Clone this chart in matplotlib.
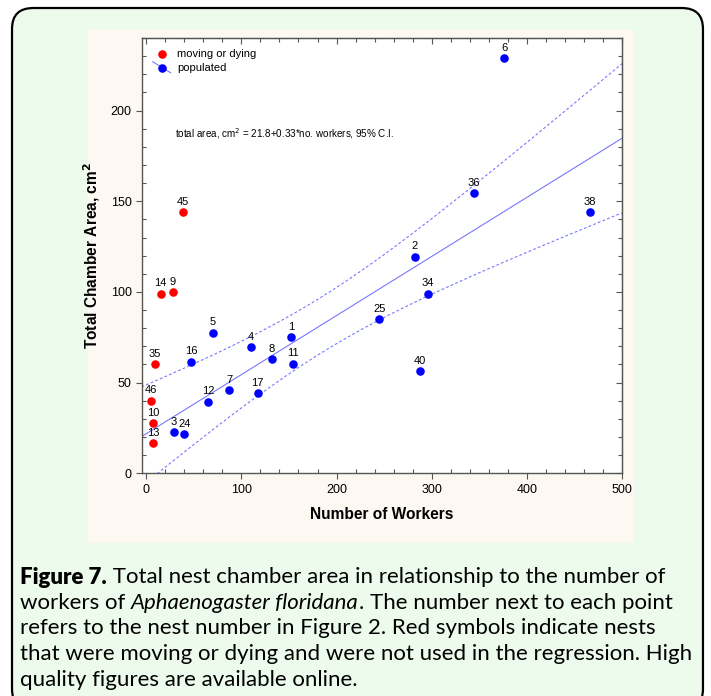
import numpy as np
import matplotlib
matplotlib.use("Agg")
import matplotlib.pyplot as plt
from matplotlib.patches import FancyBboxPatch, Rectangle
from matplotlib.ticker import MultipleLocator

# nests that were moving or dying (not in regression)
red_nest = ["45", "14", "9", "35", "46", "10", "13"]
red_workers = [39, 15, 28, 9, 5, 7, 7]
red_area = [144, 99, 100, 60, 40, 27.5, 16.5]

# populated nests
blue_nest = ["3", "24", "12", "7", "17", "16", "5", "4", "8", "1", "11",
             "25", "34", "40", "2", "36", "38", "6"]
blue_workers = [29, 40, 65, 87, 117, 47, 70, 110, 132, 152, 154,
                245, 296, 288, 282, 344, 466, 376]
blue_area = [22.5, 21.5, 39.5, 46, 44, 61.5, 77.5, 69.5, 63, 75, 60.5,
             85, 99, 56.5, 119.5, 154.5, 144, 229]

legend_labels = ["moving or dying", "populated"]

caption = [
    [("Figure 7.", "heavy", "normal"), (" Total nest chamber area in relationship to the number of", "normal", "normal")],
    [("workers of ", "normal", "normal"), ("Aphaenogaster floridana", "normal", "italic"),
     (". The number next to each point", "normal", "normal")],
    [("refers to the nest number in Figure 2. Red symbols indicate nests", "normal", "normal")],
    [("that were moving or dying and were not used in the regression. High", "normal", "normal")],
    [("quality figures are available online.", "normal", "normal")],
]

plt.rcParams['font.family'] = ['Liberation Sans', 'DejaVu Sans']

fig = plt.figure(figsize=(7.11, 6.96), dpi=100)

# green rounded frame and cream panel
frame = FancyBboxPatch((0.0169, -0.02), 0.9718, 1.0085, boxstyle="round,pad=0,rounding_size=0.03",
                       transform=fig.transFigure, facecolor="#edfbec", edgecolor="black",
                       linewidth=1.6, zorder=-2)
fig.patches.append(frame)
panel = Rectangle((0.1238, 0.2198), 0.7665, 0.737, transform=fig.transFigure,
                  facecolor="#fdf8f1", edgecolor="none", zorder=-1)
fig.patches.append(panel)

ax = fig.add_axes([0.1997, 0.32, 0.6751, 0.6254])
ax.set_facecolor("white")

# regression on populated nests with 95% CI
x = np.array(blue_workers, float)
y = np.array(blue_area, float)
n = len(x)
b, a = np.polyfit(x, y, 1)
resid = y - (a + b * x)
s = np.sqrt(np.sum(resid ** 2) / (n - 2))
sxx = np.sum((x - x.mean()) ** 2)
t = 2.120  # t(0.975, 16)
xs = np.linspace(-5, 500, 200)
yhat = a + b * xs
half = t * s * np.sqrt(1 / n + (xs - x.mean()) ** 2 / sxx)
lc = "#7878ff"
ax.plot(xs, yhat, color=lc, lw=0.8)
ax.plot(xs, yhat + half, color=lc, lw=0.8, ls=(0, (2.5, 2)))
ax.plot(xs, yhat - half, color=lc, lw=0.8, ls=(0, (2.5, 2)))

ax.scatter(red_workers, red_area, s=38, color="#ff0000", zorder=3, linewidths=0)
ax.scatter(blue_workers, blue_area, s=38, color="#0000ff", zorder=3, linewidths=0)
for lab, xx, yy in zip(red_nest + blue_nest, red_workers + blue_workers, red_area + blue_area):
    ax.annotate(lab, (xx, yy), xytext=(0, 3.8), textcoords="offset points",
                ha="center", va="bottom", fontsize=8)

ax.set_xlim(-4.5, 500)
ax.set_ylim(0, 240)
for axis, maj, mnr in [(ax.xaxis, 100, 20), (ax.yaxis, 50, 10)]:
    axis.set_major_locator(MultipleLocator(maj))
    axis.set_minor_locator(MultipleLocator(mnr))
ax.tick_params(which="both", labelsize=9, color="#555555", width=0.8)
ax.tick_params(which="major", direction="out", length=4)
ax.tick_params(which="minor", direction="in", length=3)
# top and right ticks point inward
top = ax.secondary_xaxis("top")
right = ax.secondary_yaxis("right")
top.xaxis.set_major_locator(MultipleLocator(100))
top.xaxis.set_minor_locator(MultipleLocator(20))
right.yaxis.set_major_locator(MultipleLocator(50))
right.yaxis.set_minor_locator(MultipleLocator(10))
for sec in (top, right):
    sec.tick_params(which="both", direction="in", color="#555555", width=0.8,
                    labeltop=False, labelright=False)
    sec.tick_params(which="major", length=4)
    sec.tick_params(which="minor", length=3)
    for sp in sec.spines.values():
        sp.set_color("#555555")
for sp in ax.spines.values():
    sp.set_color("#555555")
    sp.set_linewidth(1.0)

ax.set_xlabel("Number of Workers", fontsize=11.2, fontweight="bold", labelpad=8)
ax.set_ylabel("Total Chamber Area, cm$^\\mathbf{2}$", fontsize=11.2, fontweight="bold", labelpad=6)

ax.text(0.068, 0.78, "total area, cm$^2$ = 21.8+0.33*no. workers, 95% C.I.",
        transform=ax.transAxes, fontsize=7.1, va="center")

# legend drawn in axes fraction
ax.scatter([0.0417], [0.963], s=38, color="#ff0000", transform=ax.transAxes, zorder=4, linewidths=0)
ax.scatter([0.0417], [0.931], s=38, color="#0000ff", transform=ax.transAxes, zorder=4, linewidths=0)
ax.plot([0.0223, 0.0598], [0.9455, 0.920], color=lc, lw=0.8, transform=ax.transAxes)
ax.text(0.073, 0.963, legend_labels[0], transform=ax.transAxes, fontsize=8, va="center")
ax.text(0.073, 0.931, legend_labels[1], transform=ax.transAxes, fontsize=8, va="center")

# caption with mixed styles
fig.canvas.draw()
r = fig.canvas.get_renderer()
y0 = 1 - 577 / 696
for i, line in enumerate(caption):
    xpos = 20 / 711
    yy = y0 - i * 25.7 / 696
    for txt, w, st in line:
        tt = fig.text(xpos, yy, txt, fontsize=16.0, fontweight=w, fontstyle=st,
                      family=["Lato", "DejaVu Sans"], va="center", ha="left")
        bb = tt.get_window_extent(renderer=r)
        xpos += bb.width / fig.bbox.width

fig.savefig("out.png", dpi=100)
